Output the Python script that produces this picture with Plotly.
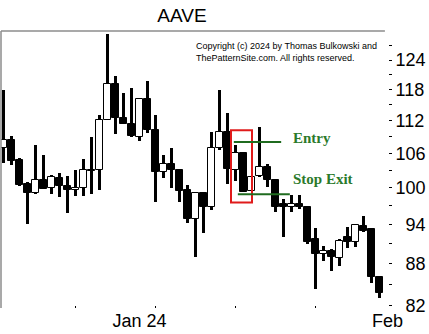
import math
import numpy as np
import pandas as pd
import plotly.graph_objects as go

# ---------------- data ----------------
ticker = "AAVE"
dates = pd.date_range("2023-12-15", periods=48, freq="D")

opens = [107.00, 108.45, 104.73, 100.57, 99.10, 101.37, 100.01, 101.71, 100.23, 99.55,
         100.01, 103.09, 102.97, 112.18, 119.01, 112.56, 111.42, 108.93, 116.23, 110.30,
         102.68, 104.14, 102.97, 99.55, 94.91, 99.10, 96.79, 107.00, 109.86, 102.97,
         106.03, 99.44, 101.93, 103.55, 101.25, 97.39, 96.79, 97.23, 96.79, 91.76,
         89.46, 89.96, 88.86, 92.00, 91.23, 93.84, 93.32, 85.99]
highs = [117.87, 109.06, 105.21, 100.96, 107.41, 105.62, 102.11, 102.57, 101.93, 103.09,
         105.03, 108.93, 113.00, 129.57, 120.69, 117.34, 118.21, 116.30, 119.68, 113.00,
         105.62, 107.00, 103.27, 100.40, 99.20, 99.22, 109.86, 117.87, 113.44, 107.54,
         106.10, 101.93, 110.79, 104.14, 101.54, 98.17, 98.72, 98.72, 96.90, 93.41,
         90.72, 90.27, 91.76, 93.57, 94.00, 95.44, 93.37, 86.10]
lows = [104.20, 103.85, 100.23, 94.11, 99.00, 99.72, 98.88, 98.43, 95.81, 98.60,
        98.60, 98.88, 99.67, 112.05, 109.56, 111.30, 108.88, 108.20, 109.67, 97.61,
        101.71, 100.01, 97.61, 94.21, 89.05, 92.63, 96.25, 106.64, 100.69, 101.13,
        99.22, 99.39, 101.76, 100.11, 95.97, 92.00, 95.97, 96.52, 90.98, 84.33,
        88.45, 86.97, 87.61, 90.31, 90.46, 92.89, 85.18, 83.00]
closes = [108.45, 104.60, 100.40, 99.10, 101.37, 99.84, 101.81, 100.23, 99.55, 100.01,
          103.09, 102.89, 112.18, 119.01, 112.56, 111.42, 109.06, 116.23, 110.17, 102.68,
          104.14, 102.97, 99.44, 94.91, 99.10, 96.79, 107.00, 109.86, 103.27, 106.03,
          99.27, 101.81, 103.55, 101.25, 96.79, 96.79, 97.34, 96.79, 91.23, 89.46,
          89.96, 88.95, 91.49, 91.23, 93.95, 93.05, 85.99, 83.76]

price_ticks = [82, 85, 88, 91, 94, 97, 100, 103, 106, 109, 112, 115, 118, 121, 124, 127]
price_labels = ["\u200782", "", "\u200788", "", "\u200794", "", "100", "", "106", "",
                "112", "", "118", "", "124", ""]
month_ticks = ["2024-01-01", "2024-02-01"]
month_labels = ["Jan 24", "Feb"]
minor_ticks = [dates[9], dates[19], dates[29], dates[39]]

entry_price = 108.0
stop_price = 98.9
pattern_start, pattern_end = "2024-01-12 10:30", "2024-01-15 01:30"
pattern_top, pattern_bottom = 110.17, 97.56
entry_span = ("2024-01-12 19:00", "2024-01-18 17:00")
stop_span = ("2024-01-13 07:00", "2024-01-19 19:00")
label_x = "2024-01-19 22:30"

copyright_text = ("Copyright (c) 2024 by Thomas Bulkowski and<br>"
                  "ThePatternSite.com. All rights reserved.")

# ---------------- figure ----------------
DAY_MS = 86400000
GREEN = "#2b7a2b"
LINE_GREEN = "#1f6b1f"
FONT = "Liberation Sans, Arial, sans-serif"

o = np.array(opens)
h = np.array(highs)
l = np.array(lows)
c = np.array(closes)
up = c >= o
body_low = np.minimum(o, c)
body_len = np.maximum(np.abs(c - o), 0.05)

fig = go.Figure()
# wicks
fig.add_trace(go.Bar(
    x=dates, y=h - l, base=l, width=0.32 * DAY_MS,
    marker=dict(color="black", line=dict(width=0)),
    hoverinfo="skip", showlegend=False, name="range",
))
# rising bodies (hollow)
fig.add_trace(go.Bar(
    x=dates[up], y=body_len[up], base=body_low[up], width=0.8 * DAY_MS,
    marker=dict(color="white", line=dict(color="black", width=1)),
    showlegend=False, name="up",
))
# falling bodies (filled)
fig.add_trace(go.Bar(
    x=dates[~up], y=body_len[~up], base=body_low[~up], width=0.8 * DAY_MS,
    marker=dict(color="black", line=dict(color="black", width=1)),
    showlegend=False, name="down",
))

# x range: 8 px per day, plot area from px 1 to 388
x0 = pd.Timestamp("2023-12-15") - pd.Timedelta(hours=7.5)
x1 = pd.Timestamp("2023-12-15") + pd.Timedelta(days=48.0625)

fig.update_layout(
    width=429, height=334,
    margin=dict(l=1, r=41, t=31, b=26),
    paper_bgcolor="white", plot_bgcolor="white",
    barmode="overlay", bargap=0,
    showlegend=False,
    title=dict(text=ticker, x=182 / 429, xanchor="center", y=1 - 15 / 334, yanchor="middle",
               font=dict(family=FONT, size=19, color="black")),
    font=dict(family=FONT, color="black"),
)
fig.update_xaxes(
    type="date", range=[x0, x1],
    tickmode="array", tickvals=month_ticks, ticktext=month_labels,
    ticks="", tickfont=dict(family=FONT, size=18, color="black"),
    showgrid=False, zeroline=False, showline=False,
    minor=dict(tickmode="array", tickvals=minor_ticks, ticks="inside", ticklen=2,
               tickwidth=1, tickcolor="black", showgrid=False),
)
fig.update_yaxes(
    type="log", side="right",
    range=[math.log10(81.67), math.log10(130.23)],
    tickmode="array", tickvals=price_ticks, ticktext=price_labels,
    ticks="outside", ticklen=3, tickwidth=1, tickcolor="black",
    tickfont=dict(family=FONT, size=18, color="black"),
    showgrid=False, zeroline=False, showline=False,
)

# frame lines (top and left), gray
fig.add_shape(type="line", xref="paper", yref="paper", x0=0, x1=0.992, y0=1, y1=1,
              line=dict(color="#8c8c8c", width=1.5))
fig.add_shape(type="line", xref="paper", yref="paper", x0=0, x1=0, y0=0, y1=1,
              line=dict(color="#8c8c8c", width=1.5))

# pattern box
fig.add_shape(type="rect", xref="x", yref="y", x0=pattern_start, x1=pattern_end,
              y0=pattern_bottom, y1=pattern_top, line=dict(color="#e01b1b", width=2))
# entry and stop lines
fig.add_shape(type="line", xref="x", yref="y", x0=entry_span[0], x1=entry_span[1],
              y0=entry_price, y1=entry_price, line=dict(color=LINE_GREEN, width=2))
fig.add_shape(type="line", xref="x", yref="y", x0=stop_span[0], x1=stop_span[1],
              y0=stop_price, y1=stop_price, line=dict(color=LINE_GREEN, width=2))

fig.add_annotation(x=label_x, y=math.log10(entry_price), xref="x", yref="y", text="<b>Entry</b>",
                   showarrow=False, xanchor="left", yanchor="middle", yshift=4,
                   font=dict(family="Liberation Serif, Times New Roman, serif", size=15, color=GREEN))
fig.add_annotation(x=label_x, y=math.log10(stop_price), xref="x", yref="y", text="<b>Stop Exit</b>",
                   showarrow=False, xanchor="left", yanchor="middle", yshift=15,
                   font=dict(family="Liberation Serif, Times New Roman, serif", size=15, color=GREEN))

fig.add_annotation(x=(194 - 1) / 387, y=(308 - 39) / 277, xref="paper", yref="paper",
                   text=copyright_text, showarrow=False, xanchor="left", yanchor="top",
                   align="left", font=dict(family=FONT, size=9, color="black"))

fig.write_html("out.html")
